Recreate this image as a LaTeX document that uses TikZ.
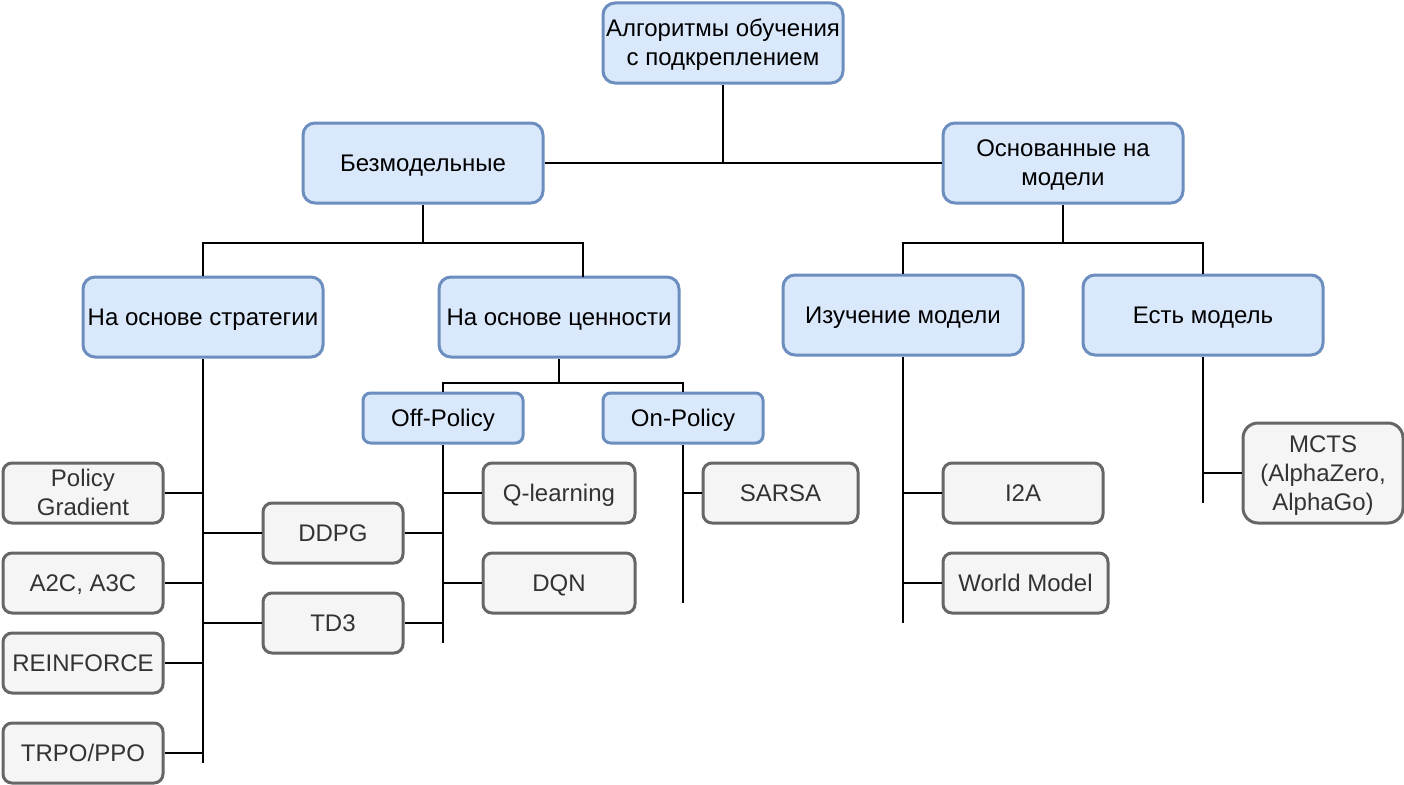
\documentclass[tikz,border=0pt]{standalone}
\usepackage{fontspec}
\setmainfont{Liberation Sans}
\definecolor{bfill}{HTML}{DAE8FC}
\definecolor{bstroke}{HTML}{6C8EBF}
\definecolor{gfill}{HTML}{F5F5F5}
\definecolor{gstroke}{HTML}{666666}
\definecolor{gtext}{HTML}{333333}
\newcommand\sT{\rule{0pt}{22.7pt}}
\newcommand\sB{\rule[-6.1pt]{0pt}{6.1pt}}
\begin{document}
\begin{tikzpicture}[x=1pt,y=-1pt,
  base/.style={line width=3pt, align=center, inner sep=0pt, font=\fontsize{24}{28.8}\selectfont},
  bluebox/.style={base, draw=bstroke, fill=bfill, text=black},
  graybox/.style={base, draw=gstroke, fill=gfill, text=gtext},
  big/.style={minimum width=240pt, minimum height=80pt, rounded corners=12pt},
  mid/.style={minimum height=60pt, rounded corners=9pt},
  conn/.style={line width=2pt, draw=black}]
\useasboundingbox (0,0) rectangle (1404,784);
% level 0-2
\node[bluebox, big] (top) at (723,43) {\sT Алгоритмы обучения\\с подкреплением\sB};
\node[bluebox, big] (bez) at (423,163) {\sT\sB Безмодельные};
\node[bluebox, big] (osn) at (1063,163) {\sT Основанные на\\модели\sB};
\node[bluebox, big] (strat) at (203,317) {\sT\sB На основе стратегии};
\node[bluebox, big] (cenn) at (559,317) {\sT\sB На основе ценности};
\node[bluebox, big] (izuch) at (903,315) {\sT\sB Изучение модели};
\node[bluebox, big] (est) at (1203,315) {\sT\sB Есть модель};
\node[bluebox, minimum width=160pt, minimum height=50pt, rounded corners=7.5pt] (off) at (443,418) {\sT\sB Off-Policy};
\node[bluebox, minimum width=160pt, minimum height=50pt, rounded corners=7.5pt] (on) at (683,418) {\sT\sB On-Policy};
% leaves
\node[graybox, mid, minimum width=160pt] (pg) at (83,493) {\sT Policy\\Gradient\sB};
\node[graybox, mid, minimum width=160pt] (a2c) at (83,583) {\sT\sB A2C, A3C};
\node[graybox, mid, minimum width=160pt] (reinf) at (83,663) {\sT\sB REINFORCE};
\node[graybox, mid, minimum width=160pt] (trpo) at (83,753) {\sT\sB TRPO/PPO};
\node[graybox, mid, minimum width=140pt] (ddpg) at (333,533) {\sT\sB DDPG};
\node[graybox, mid, minimum width=140pt] (td3) at (333,623) {\sT\sB TD3};
\node[graybox, mid, minimum width=152pt] (ql) at (559,493) {\sT\sB Q-learning};
\node[graybox, mid, minimum width=152pt] (dqn) at (559,583) {\sT\sB DQN};
\node[graybox, mid, minimum width=155pt] (sarsa) at (780.5,493) {\sT\sB SARSA};
\node[graybox, mid, minimum width=160pt] (i2a) at (1023,493) {\sT\sB I2A};
\node[graybox, mid, minimum width=165pt] (wm) at (1025.5,583) {\sT\sB World Model};
\node[graybox, minimum width=160pt, minimum height=100pt, rounded corners=15pt] (mcts) at (1323,473) {\sT MCTS\\(AlphaZero,\\AlphaGo)\sB};
% junction coordinates
\coordinate (j1) at (423,243);
\coordinate (cj) at (583,277);
\coordinate (oj) at (1063,243);
\coordinate (vj) at (559,383);
\coordinate (send) at (203,763);
\coordinate (offend) at (443,643);
\coordinate (onend) at (683,603);
\coordinate (izend) at (903,623);
\coordinate (estend) at (1203,503);
% connectors
\draw[conn] (top.south) -- (top.south |- bez.east);
\draw[conn] (bez.east) -- (osn.west);
\draw[conn] (bez.south) -- (j1);
\draw[conn] (strat.north) |- (cj |- j1) -- (cj);
\draw[conn] (osn.south) -- (oj);
\draw[conn] (izuch.north) |- (est.north |- oj) -- (est.north);
\draw[conn] (cenn.south) -- (vj);
\draw[conn] (off.north) |- (on.north |- vj) -- (on.north);
\draw[conn] (strat.south) -- (send);
\draw[conn] (pg.east) -- (pg.east -| send);
\draw[conn] (a2c.east) -- (a2c.east -| send);
\draw[conn] (reinf.east) -- (reinf.east -| send);
\draw[conn] (trpo.east) -- (trpo.east -| send);
\draw[conn] (ddpg.west) -- (ddpg.west -| send);
\draw[conn] (td3.west) -- (td3.west -| send);
\draw[conn] (off.south) -- (offend);
\draw[conn] (ddpg.east) -- (ddpg.east -| offend);
\draw[conn] (td3.east) -- (td3.east -| offend);
\draw[conn] (ql.west) -- (ql.west -| offend);
\draw[conn] (dqn.west) -- (dqn.west -| offend);
\draw[conn] (on.south) -- (onend);
\draw[conn] (sarsa.west) -- (sarsa.west -| onend);
\draw[conn] (izuch.south) -- (izend);
\draw[conn] (i2a.west) -- (i2a.west -| izend);
\draw[conn] (wm.west) -- (wm.west -| izend);
\draw[conn] (est.south) -- (estend);
\draw[conn] (mcts.west) -- (mcts.west -| estend);
\end{tikzpicture}
\end{document}
